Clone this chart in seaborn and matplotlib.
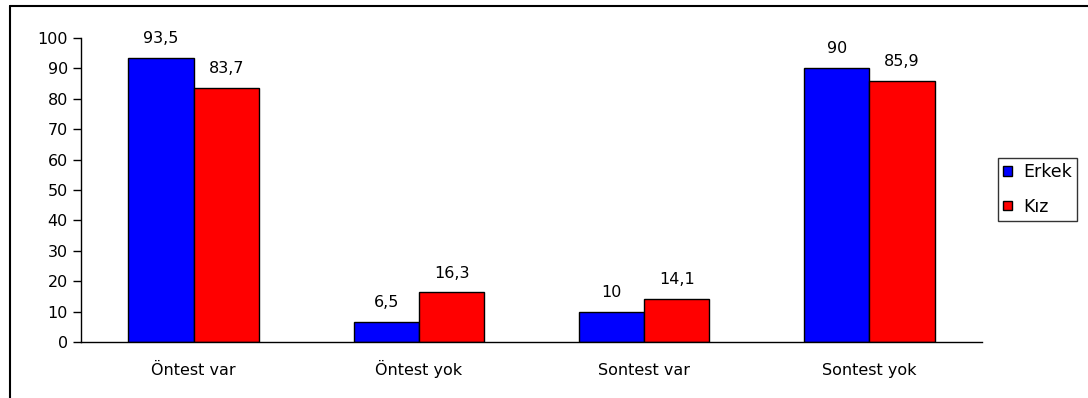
import matplotlib
matplotlib.use("Agg")
import matplotlib.pyplot as plt
import seaborn as sns
import pandas as pd
from matplotlib.patches import Patch
from matplotlib.lines import Line2D

categories = ["Öntest var", "Öntest yok", "Sontest var", "Sontest yok"]
series_names = ["Erkek", "Kız"]
erkek = [93.5, 6.5, 10, 90]
kiz = [83.7, 16.3, 14.1, 85.9]
colors = ["#0000FF", "#FF0000"]
y_ticks = list(range(0, 101, 10))

FS = 11.5

sns.set_theme(style="white")
plt.rcParams["font.family"] = ["DejaVu Sans"]
plt.rcParams["font.size"] = FS
plt.rcParams["text.color"] = "black"
plt.rcParams["xtick.color"] = "black"
plt.rcParams["ytick.color"] = "black"
plt.rcParams["xtick.labelcolor"] = "black"
plt.rcParams["ytick.labelcolor"] = "black"

df = pd.DataFrame({
    "kategori": categories * 2,
    "grup": [series_names[0]] * len(categories) + [series_names[1]] * len(categories),
    "deger": erkek + kiz,
})

W, H = 1088, 398
fig = plt.figure(figsize=(W / 100, H / 100), dpi=100)
ax = fig.add_axes([81 / W, 1 - 342 / H, (982 - 81) / W, (342 - 38) / H])

sns.barplot(data=df, x="kategori", y="deger", hue="grup", order=categories,
            hue_order=series_names, palette=colors, width=0.58, gap=0,
            edgecolor="black", linewidth=1.0, saturation=1, ax=ax, legend=False)

def fmt(v):
    return f"{v:g}".replace(".", ",")

for cont in ax.containers:
    for bar in cont:
        h = bar.get_height()
        ax.annotate(fmt(h), (bar.get_x() + bar.get_width() / 2, h),
                    xytext=(0, 14), textcoords="offset points",
                    ha="center", va="center", fontsize=FS, color="black")

ax.set_ylim(0, 100)
ax.set_xlim(-0.5, len(categories) - 0.5)
ax.set_yticks(y_ticks)
ax.set_yticklabels([str(t) for t in y_ticks], fontsize=FS, color="black")
ax.set_xticks(range(len(categories)))
ax.set_xticklabels(categories, fontsize=FS, color="black")
for lbl in ax.get_xticklabels():
    lbl.set_verticalalignment("baseline")
ax.set_xticks([i - 0.5 for i in range(len(categories) + 1)], minor=True)
ax.tick_params(axis="x", which="major", length=0, pad=24)
ax.tick_params(axis="x", which="minor", length=4.5, width=1, color="black", direction="out")
ax.tick_params(axis="y", which="major", length=5.5, width=1, color="black",
               direction="out", left=True, pad=4)
ax.set_xlabel("")
ax.set_ylabel("")
for side in ["top", "right"]:
    ax.spines[side].set_visible(False)
for side in ["left", "bottom"]:
    ax.spines[side].set_visible(True)
    ax.spines[side].set_color("black")
    ax.spines[side].set_linewidth(1.0)
ax.grid(False)

handles = [Patch(facecolor=c, edgecolor="black", linewidth=1.0) for c in colors]
leg = fig.legend(handles, series_names, loc="upper left",
                 bbox_to_anchor=(998 / W, 1 - 158 / H),
                 frameon=True, fancybox=False, shadow=False,
                 handlelength=0.5, handleheight=0.5, handletextpad=0.65,
                 labelspacing=0.95, borderpad=0.3, borderaxespad=0,
                 prop={"size": 12.5})
leg.get_frame().set_edgecolor("black")
leg.get_frame().set_linewidth(1.0)
for t in leg.get_texts():
    t.set_color("black")

# outer chart border (left and top edges visible)
fig.add_artist(Line2D([9.5 / W, 9.5 / W], [0, 1 - 5.5 / H], transform=fig.transFigure,
                      color="black", linewidth=1.5))
fig.add_artist(Line2D([9.5 / W, 1.0], [1 - 5.5 / H, 1 - 5.5 / H], transform=fig.transFigure,
                      color="black", linewidth=1.5))

fig.savefig("out.png", dpi=100, facecolor="white")
